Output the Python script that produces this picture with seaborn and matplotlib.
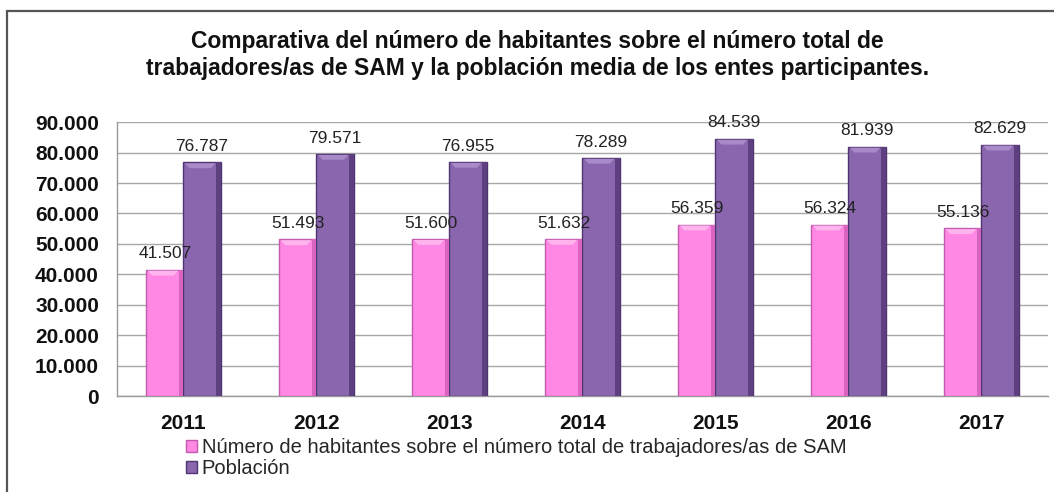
import matplotlib
matplotlib.use("Agg")
import matplotlib.pyplot as plt
import matplotlib.patches as mpatches
import matplotlib.ticker as mticker
import seaborn as sns
import pandas as pd

years = ["2011", "2012", "2013", "2014", "2015", "2016", "2017"]
habitantes_por_trabajador = [41507, 51493, 51600, 51632, 56359, 56324, 55136]
poblacion = [76787, 79571, 76955, 78289, 84539, 81939, 82629]
series_names = [
    "Número de habitantes sobre el número total de trabajadores/as de SAM",
    "Población",
]
title = ("Comparativa del número de habitantes sobre el número total de\n"
         "trabajadores/as de SAM y la población media de los entes participantes.")

colors = ["#FF88E4", "#8A66AE"]
edge_colors = ["#C25AAE", "#4E3470"]
cap_colors = ["#FFB4EE", "#A88AC8"]
side_colors = ["#D964C0", "#5E4080"]

df = pd.DataFrame({
    "Año": years * 2,
    "Valor": habitantes_por_trabajador + poblacion,
    "Serie": [series_names[0]] * len(years) + [series_names[1]] * len(years),
})

sns.set_theme(style="white")
plt.rcParams["font.family"] = ["Liberation Sans", "DejaVu Sans"]

fig = plt.figure(figsize=(10.54, 4.92), dpi=100)
ax = fig.add_axes([0.111, 0.195, 0.8833, 0.5566])

sns.barplot(data=df, x="Año", y="Valor", hue="Serie", palette=colors,
            width=0.56, ax=ax, legend=True, saturation=1, zorder=3)

def fmt_thousands(v, pos=None):
    return f"{int(round(v)):,}".replace(",", ".")

# Bevelled look: lighter cap strip and darker right edge on each bar
for container, ec, cc, sc in zip(ax.containers, edge_colors, cap_colors, side_colors):
    for bar in container:
        bar.set_edgecolor(ec)
        bar.set_linewidth(1.0)
        x0, w, h = bar.get_x(), bar.get_width(), bar.get_height()
        cap = mpatches.Polygon([(x0 + w * 0.04, h - 300), (x0 + w * 0.86, h - 300),
                                (x0 + w * 0.74, h - 1900), (x0 + w * 0.16, h - 1900)],
                               closed=True, facecolor=cc, edgecolor="none", zorder=4)
        side = mpatches.Rectangle((x0 + w * 0.88, 0), w * 0.12, h,
                                  facecolor=sc, edgecolor="none", zorder=4)
        ax.add_patch(cap)
        ax.add_patch(side)
    ax.bar_label(container, labels=[fmt_thousands(b.get_height()) for b in container],
                 padding=6, fontsize=12.5, color="#222222")

ax.set_ylim(0, 90000)
ax.set_xlim(-0.5, len(years) - 0.5)
ax.yaxis.set_major_locator(mticker.MultipleLocator(10000))
ax.yaxis.set_major_formatter(mticker.FuncFormatter(fmt_thousands))
ax.grid(axis="y", color="#A8A8A8", linewidth=1.0, zorder=0)
ax.set_axisbelow(True)

for side in ["top", "right"]:
    ax.spines[side].set_visible(False)
for side in ["left", "bottom"]:
    ax.spines[side].set_color("#999999")
    ax.spines[side].set_linewidth(1.0)

# Tick marks sit between categories on the x axis
ax.set_xticks(range(len(years)))
ax.set_xticklabels(years)
ax.minorticks_on()
ax.xaxis.set_minor_locator(mticker.FixedLocator([i - 0.5 for i in range(len(years) + 1)]))
ax.yaxis.set_minor_locator(mticker.NullLocator())
ax.tick_params(axis="x", which="major", length=0, pad=13, labelsize=15)
ax.tick_params(axis="x", which="minor", length=5, color="#999999", direction="out")
ax.tick_params(axis="y", length=4, color="#999999", direction="out", pad=9, labelsize=15)
for lab in ax.get_xticklabels() + ax.get_yticklabels():
    lab.set_fontweight("bold")
    lab.set_color("#111111")
ax.set_xlabel("")
ax.set_ylabel("")

leg = ax.legend(loc="upper left", bbox_to_anchor=(0.066, -0.125), frameon=False,
                fontsize=14.5, handlelength=0.5, handleheight=0.5, handletextpad=0.25,
                labelspacing=0.1, borderaxespad=0)
for h, ec in zip(leg.legend_handles, edge_colors):
    h.set_edgecolor(ec)

fig.text(0.51, 0.888, title, ha="center", va="center", fontsize=16.5,
         fontweight="bold", color="#111111", linespacing=1.2)

# Outer frame of the chart area
frame = mpatches.Rectangle((0.0066, -0.05), 1.1, 1.028, transform=fig.transFigure,
                           fill=False, edgecolor="#555555", linewidth=1.6)
fig.patches.append(frame)

fig.savefig("out.png", dpi=100, facecolor="white")
